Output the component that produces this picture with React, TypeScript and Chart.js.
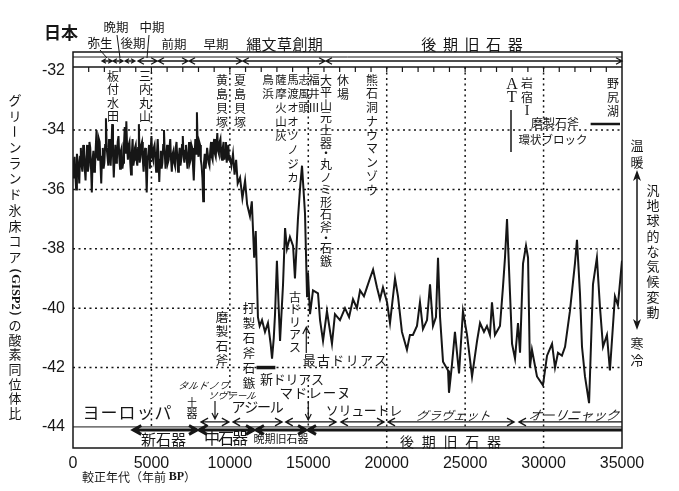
import React, { useEffect, useRef } from "react";
import { Chart, registerables } from "chart.js";
Chart.register(...registerables);

// ---- data ----
const years = [
  0, 50, 100, 150, 200, 250, 300, 350, 400, 450, 500, 550, 600, 650, 700, 750, 800, 850, 900, 950,
  1000, 1050, 1100, 1150, 1200, 1250, 1300, 1350, 1400, 1450, 1500, 1550, 1600, 1650, 1700, 1750, 1800, 1850, 1900, 1950,
  2000, 2050, 2100, 2150, 2200, 2250, 2300, 2350, 2400, 2450, 2500, 2550, 2600, 2650, 2700, 2750, 2800, 2850, 2900, 2950,
  3000, 3050, 3100, 3150, 3200, 3250, 3300, 3350, 3400, 3450, 3500, 3550, 3600, 3650, 3700, 3750, 3800, 3850, 3900, 3950,
  4000, 4050, 4100, 4150, 4200, 4250, 4300, 4350, 4400, 4450, 4500, 4550, 4600, 4650, 4700, 4750, 4800, 4850, 4900, 4950,
  5000, 5050, 5100, 5150, 5200, 5250, 5300, 5350, 5400, 5450, 5500, 5550, 5600, 5650, 5700, 5750, 5800, 5850, 5900, 5950,
  6000, 6050, 6100, 6150, 6200, 6250, 6300, 6350, 6400, 6450, 6500, 6550, 6600, 6650, 6700, 6750, 6800, 6850, 6900, 6950,
  7000, 7050, 7100, 7150, 7200, 7250, 7300, 7350, 7400, 7450, 7500, 7550, 7600, 7650, 7700, 7750, 7800, 7850, 7900, 7950,
  8000, 8050, 8100, 8150, 8200, 8250, 8300, 8350, 8400, 8450, 8500, 8550, 8600, 8650, 8700, 8750, 8800, 8850, 8900, 8950,
  9000, 9050, 9100, 9150, 9200, 9250, 9300, 9350, 9400, 9450, 9500, 9550, 9600, 9650, 9700, 9750, 9800, 9850, 9900, 9950,
  10000, 10100, 10200, 10300, 10400, 10500, 10650, 10800, 10970, 11100,
  11280, 11400, 11550, 11650, 11790, 11900, 12050, 12240, 12430, 12600,
  12690, 12800, 12880, 13000, 13100, 13200, 13390, 13520, 13640, 13830,
  14030, 14150, 14340, 14470, 14600, 14790, 14920, 14980, 15110, 15300,
  15620, 15750, 15940, 16190, 16510, 16700, 17020, 17340, 17600, 17850,
  18100, 18300, 18550, 18740, 18930, 19130, 19380, 19570, 19760, 20020,
  20210, 20530, 20720, 20970, 21290, 21480, 21670, 21930, 22120, 22310,
  22570, 22760, 22950, 23140, 23270, 23400, 23590, 23910, 23970, 24160,
  24350, 24610, 24860, 25120, 25440, 25760, 25950, 26200, 26390, 26580,
  26710, 26900, 27220, 27410, 27540, 27670, 27860, 27990, 28180, 28370,
  28500, 28690, 28880, 29010, 29130, 29260, 29580, 29960, 30220, 30540,
  30730, 30920, 31170, 31370, 31680, 32000, 32130, 32320, 32450, 32640,
  32900, 33150, 33400, 33600, 33790, 34040, 34230, 34550, 34740, 35000,
];
const d18O = [
  -35.6, -35.1, -34.9, -35.5, -36.0, -34.8, -35.0, -35.3, -35.8, -34.9, -34.6, -35.2, -35.4, -34.5, -34.8, -35.3, -35.7, -34.9, -34.5, -35.4,
  -35.2, -34.4, -34.6, -35.3, -36.1, -35.0, -34.7, -35.4, -35.3, -34.6, -34.0, -34.9, -35.0, -34.3, -34.4, -35.1, -35.8, -34.9, -34.6, -35.3,
  -35.1, -34.5, -33.6, -34.6, -34.9, -35.2, -34.3, -34.8, -35.2, -34.6, -33.8, -34.8, -35.6, -34.9, -34.5, -35.1, -35.0, -34.4, -34.2, -34.9,
  -35.3, -34.7, -34.6, -35.3, -35.1, -34.5, -33.9, -34.8, -33.7, -34.6, -35.0, -34.5, -34.4, -35.1, -35.5, -34.8, -34.3, -35.2, -35.0, -34.6,
  -34.5, -35.0, -35.2, -34.6, -33.8, -35.1, -34.9, -34.5, -34.4, -35.0, -35.4, -34.9, -34.6, -35.2, -36.1, -35.0, -34.8, -34.5, -35.3, -34.7,
  -34.2, -34.9, -35.0, -34.6, -34.5, -35.0, -35.4, -34.8, -34.3, -34.9, -35.75, -35.0, -34.7, -35.3, -35.1, -34.5, -34.0, -34.8, -35.3, -34.9,
  -34.5, -35.1, -35.0, -34.6, -34.3, -35.0, -35.4, -34.8, -34.7, -35.1, -35.2, -34.6, -34.4, -35.0, -35.4, -34.9, -34.6, -35.2, -35.0, -34.5,
  -34.2, -34.9, -35.1, -34.7, -34.5, -35.0, -35.3, -34.8, -34.4, -35.1, -35.0, -34.5, -34.6, -35.2, -35.7, -34.9, -34.3, -34.8, -33.4, -34.6,
  -34.9, -34.4, -34.5, -35.0, -35.2, -35.6, -36.4, -35.1, -34.8, -35.3, -35.0, -34.6, -34.6, -35.1, -35.2, -34.7, -34.4, -34.9, -35.0, -34.5,
  -34.3, -34.8, -34.9, -34.5, -34.1, -34.7, -34.8, -34.4, -34.3, -34.9, -35.0, -34.6, -34.4, -35.0, -34.7, -34.4, -35.1, -34.8, -34.5, -35.0,
  -34.9, -35.2, -34.8, -35.5, -35.0, -35.8, -35.6, -36.3, -35.7, -36.5,
  -36.9, -36.4, -38.3, -37.4, -40.3, -40.6, -40.4, -40.8, -40.5, -41.2,
  -41.7, -41.0, -40.2, -38.4, -39.8, -41.1, -39.2, -37.3, -38.0, -37.6,
  -37.9, -39.0, -37.0, -36.0, -35.2, -36.8, -39.6, -38.8, -40.2, -39.4,
  -39.5, -40.4, -41.1, -40.1, -41.2, -40.2, -40.4, -40.0, -40.3, -39.7,
  -40.0, -39.4, -39.6, -39.3, -39.0, -38.7, -39.3, -39.7, -39.3, -39.8,
  -40.5, -39.0, -39.6, -40.8, -41.4, -40.9, -40.9, -40.6, -39.8, -40.7,
  -40.4, -39.2, -40.6, -40.3, -38.3, -40.3, -41.8, -42.1, -42.85, -41.9,
  -40.8, -42.2, -40.1, -40.9, -42.3, -41.1, -40.5, -40.8, -40.6, -40.9,
  -39.8, -40.9, -40.6, -39.3, -38.3, -37.0, -39.5, -41.2, -41.7, -40.5,
  -41.5, -38.5, -37.9, -38.3, -42.0, -41.4, -42.3, -42.6, -41.6, -41.2,
  -42.0, -41.5, -41.6, -41.3, -40.1, -38.5, -37.7, -39.5, -41.3, -42.3,
  -43.2, -39.2, -38.3, -40.0, -41.3, -40.9, -42.1, -39.6, -39.9, -38.4,
];
const yTicks = [-32, -34, -36, -38, -40, -42, -44];
const xTicks = [0, 5000, 10000, 15000, 20000, 25000, 30000, 35000];
const dottedLevels = [-34, -36, -38, -40, -42];

// Japanese periods (label, from, to) in years BP
const japanPeriods: [string, number, number][] = [
  ["弥生", 1850, 2490],
  ["晩期", 2550, 3190],
  ["後期", 3320, 3950],
  ["中期", 4140, 5360],
  ["前期", 5420, 7330],
  ["早期", 7400, 10770],
  ["縄文草創期", 10830, 16070],
  ["後期旧石器", 16130, 35000],
];
// European cultures (upper thin arrows)
const europeUpper: [string, number, number][] = [
  ["タルドノワ・ソヴテール", 8100, 10000],
  ["アジール", 10140, 13390],
  ["マドレーヌ", 13500, 16830],
  ["ソリュートレ", 17020, 19890],
  ["グラヴェット", 20020, 28180],
  ["オーリニャック", 28370, 35000],
];
// European stages (lower thick arrows)
const europeLower: [string, number, number][] = [
  ["新石器", 3780, 7970],
  ["中石器", 7970, 11600],
  ["晩期旧石器", 11600, 14920],
  ["後期旧石器", 14920, 35000],
];
const youngerDryas = [11700, 12900];
const nojiriBar = [33000, 35000];

// ---- drawing helpers ----
const JP = '"Noto Sans CJK JP", "Noto Sans CJK SC", sans-serif';
const LAT = '"Liberation Sans", Arial, sans-serif';
const SER = '"Liberation Serif", "DejaVu Serif", serif';
const INK = "#161616";
const ROT = "ー（）()";

function font(ctx: any, size: number, weight = "400", family = JP, italic = false) {
  ctx.font = `${italic ? "italic " : ""}${weight} ${size}px ${family}`;
}
function txt(ctx: any, s: string, x: number, y: number, size: number, align = "center", weight = "400", family = JP, italic = false) {
  font(ctx, size, weight, family, italic);
  ctx.textAlign = align;
  ctx.textBaseline = "middle";
  ctx.fillText(s, x, y);
  return ctx.measureText(s).width;
}
function spread(ctx: any, s: string, x0: number, x1: number, y: number, size: number, weight = "400", italic = false) {
  const chars = Array.from(s);
  const w = (x1 - x0) / chars.length;
  font(ctx, size, weight, JP, italic);
  ctx.textAlign = "center";
  ctx.textBaseline = "middle";
  chars.forEach((c, i) => {
    const cx = x0 + (i + 0.5) * w;
    if (italic) {
      ctx.save();
      ctx.translate(cx, y);
      ctx.transform(1, 0, -0.2, 1, 0, 0);
      ctx.fillText(c, 0, 0);
      ctx.restore();
    } else ctx.fillText(c, cx, y);
  });
}
function vtext(ctx: any, s: string, x: number, y0: number, step: number, size: number) {
  font(ctx, size);
  ctx.textAlign = "center";
  ctx.textBaseline = "middle";
  const chars = Array.from(s);
  let cy = y0;
  let prevH = 0;
  chars.forEach((c, i) => {
    const h = c === "・" ? step * 0.7 : step;
    if (i > 0) cy += (prevH + h) / 2;
    prevH = h;
    if (ROT.includes(c)) {
      ctx.save();
      ctx.translate(x, cy);
      ctx.rotate(Math.PI / 2);
      ctx.fillText(c, 0, 0);
      ctx.restore();
    } else ctx.fillText(c, x, cy);
  });
}
function seg(ctx: any, x0: number, y0: number, x1: number, y1: number) {
  ctx.beginPath();
  ctx.moveTo(x0, y0);
  ctx.lineTo(x1, y1);
  ctx.stroke();
}
function harrow(ctx: any, x0: number, x1: number, y: number, lw: number, hs: number, left = true, right = true) {
  ctx.lineWidth = lw;
  ctx.beginPath();
  ctx.moveTo(x0, y);
  ctx.lineTo(x1, y);
  if (left) {
    ctx.moveTo(x0 + hs, y - hs * 0.55);
    ctx.lineTo(x0, y);
    ctx.lineTo(x0 + hs, y + hs * 0.55);
  }
  if (right) {
    ctx.moveTo(x1 - hs, y - hs * 0.55);
    ctx.lineTo(x1, y);
    ctx.lineTo(x1 - hs, y + hs * 0.55);
  }
  ctx.stroke();
}
function varrow(ctx: any, x: number, y0: number, y1: number, lw: number, hs: number) {
  ctx.lineWidth = lw;
  const d = y1 > y0 ? 1 : -1;
  ctx.beginPath();
  ctx.moveTo(x, y0);
  ctx.lineTo(x, y1);
  ctx.moveTo(x - hs * 0.5, y1 - d * hs);
  ctx.lineTo(x, y1);
  ctx.lineTo(x + hs * 0.5, y1 - d * hs);
  ctx.stroke();
}
function filledHead(ctx: any, x: number, y: number, dir: number) {
  ctx.beginPath();
  ctx.moveTo(x, y);
  ctx.lineTo(x - 4, y - dir * 11);
  ctx.lineTo(x, y - dir * 8);
  ctx.lineTo(x + 4, y - dir * 11);
  ctx.closePath();
  ctx.fill();
}

const annot = {
  id: "annot",
  beforeDatasetsDraw(chart: any) {
    const { ctx, chartArea: ca, scales } = chart;
    const X = (v: number) => scales.x.getPixelForValue(v);
    const Y = (v: number) => scales.y.getPixelForValue(v);
    ctx.save();
    ctx.strokeStyle = INK;
    ctx.lineWidth = 1.5;
    ctx.setLineDash([2, 3.5]);
    dottedLevels.forEach((v) => seg(ctx, ca.left, Y(v), ca.right, Y(v)));
    const vl: [number, number, number][] = [
      [5000, ca.top + 20, Y(-44) + 1],
      [10000, ca.top + 15, Y(-44) - 32],
      [15000, ca.top + 15, Y(-41.3)],
      [15000, Y(-42.4), Y(-44) + 5],
      [20000, ca.top + 15, ca.bottom],
      [25000, ca.top + 15, Y(-44) + 1],
      [30000, ca.top + 15, ca.bottom],
    ];
    vl.forEach(([yr, a, b]) => seg(ctx, X(yr), a, X(yr), b));
    ctx.setLineDash([]);
    ctx.restore();
  },
  afterDatasetsDraw(chart: any) {
    const { ctx, chartArea: ca, scales } = chart;
    const X = (v: number) => scales.x.getPixelForValue(v);
    const Y = (v: number) => scales.y.getPixelForValue(v);
    ctx.save();
    ctx.strokeStyle = INK;
    ctx.fillStyle = INK;

    // frame
    ctx.lineWidth = 1.5;
    ctx.strokeRect(ca.left, ca.top, ca.right - ca.left, ca.bottom - ca.top);
    // top band
    ctx.lineWidth = 1;
    seg(ctx, ca.left, ca.top + 5, ca.right, ca.top + 5);
    ctx.lineWidth = 1.3;
    seg(ctx, ca.left, ca.top + 15, ca.right, ca.top + 15);
    for (let yr = 1000; yr < 35000; yr += 1000) {
      ctx.lineWidth = 1.2;
      seg(ctx, X(yr), ca.top + 15, X(yr), ca.top + 20);
    }
    japanPeriods.forEach(([, a, b], i) => {
      const small = i < 3;
      harrow(ctx, X(a), X(b), ca.top + 9, 1.3, small ? 4 : 6, true, true);
    });
    // -44 line
    ctx.lineWidth = 1;
    seg(ctx, ca.left, Y(-44), ca.right, Y(-44));

    // Japan labels
    txt(ctx, "日本", 61, 33, 17, "center", "700");
    txt(ctx, "晩期", 116, 27, 12.5);
    txt(ctx, "中期", 152, 27, 12.5);
    txt(ctx, "弥生", 100, 43, 12.5);
    txt(ctx, "後期", 133, 43, 12.5);
    txt(ctx, "前期", 174, 44, 12.5);
    txt(ctx, "早期", 216, 44, 12.5);
    spread(ctx, "縄文草創期", 246, 323, 44, 15);
    spread(ctx, "後期旧石器", 418, 526, 44, 15);
    ctx.lineWidth = 1;
    seg(ctx, 100, 50, 107, 58);
    seg(ctx, 117, 35, 120, 58);
    seg(ctx, 149, 35, 147, 58);

    // vertical site labels
    vtext(ctx, "板付水田", 113, 76, 13.5, 12);
    vtext(ctx, "三内丸山", 145, 76, 13.5, 12);
    vtext(ctx, "黄島貝塚", 222, 80, 14, 12);
    vtext(ctx, "夏島貝塚", 240, 80, 14, 12);
    vtext(ctx, "鳥浜", 268, 80, 14, 11.5);
    vtext(ctx, "薩摩火山灰", 281, 80, 14, 11.5);
    vtext(ctx, "馬渡オオツノジカ", 293, 80, 14, 11.5);
    vtext(ctx, "志風頭", 304, 80, 14, 11.5);
    vtext(ctx, "福井Ⅲ", 314, 80, 14, 11.5);
    vtext(ctx, "大平山元土器・丸ノミ形石斧・石鏃", 326, 80, 12.6, 12);
    vtext(ctx, "休場", 343, 80, 14, 12);
    vtext(ctx, "熊石洞ナウマンゾウ", 372, 80, 13.75, 12);
    txt(ctx, "A", 512, 85, 16, "center", "400", SER);
    txt(ctx, "T", 512, 98, 16, "center", "400", SER);
    ctx.lineWidth = 1.5;
    seg(ctx, 511, 110, 511, 152);
    vtext(ctx, "岩宿", 527, 83, 14, 12);
    txt(ctx, "I", 527, 111, 14, "center", "400", SER);
    vtext(ctx, "野尻湖", 613, 83, 14, 12);
    ctx.lineWidth = 2.5;
    seg(ctx, X(nojiriBar[0]), 124, X(nojiriBar[1]) - 2, 124);
    txt(ctx, "磨製石斧", 555, 123, 12);
    txt(ctx, "環状ブロック", 553, 140, 11.5);

    // lower labels in plot
    vtext(ctx, "磨製石斧", 222, 317, 14.5, 12.5);
    vtext(ctx, "打製石斧石鏃", 249, 308, 15, 12.5);
    vtext(ctx, "古ドリアス", 295, 297, 12.5, 12);
    varrow(ctx, X(15000) - 2, 353, 327, 1.2, 7);
    spread(ctx, "最古ドリアス", 302, 388, 360, 13);
    ctx.lineWidth = 3.5;
    seg(ctx, X(youngerDryas[0]), Y(-42), X(youngerDryas[1]), Y(-42));
    spread(ctx, "新ドリアス", 260, 324, 379, 13);

    // Europe
    spread(ctx, "タルドノワ", 178, 229, 385, 9.5, "400", true);
    spread(ctx, "ソヴテール", 208, 256, 395, 9.5, "400", true);
    vtext(ctx, "土器", 192, 403, 11, 11);
    spread(ctx, "ヨーロッパ", 82, 172, 413, 17);
    spread(ctx, "アジール", 232, 283, 407, 14);
    spread(ctx, "マドレーヌ", 279, 351, 393, 13.5);
    spread(ctx, "ソリュートレ", 326, 402, 410, 13);
    spread(ctx, "グラヴェット", 416, 491, 415, 12, "400", true);
    spread(ctx, "オーリニャック", 529, 619, 415, 13, "400", true);
    varrow(ctx, 215, 401, 419, 1.2, 6);
    varrow(ctx, X(15000), 401, 420, 1.2, 6);
    europeUpper.forEach(([, a, b], i) => {
      const last = i === europeUpper.length - 1;
      harrow(ctx, X(a) + 1, X(b) - (last ? 0 : 1), Y(-44) - 5, 1.4, 7, true, !last);
    });
    europeLower.forEach(([, a, b], i) => {
      const last = i === europeLower.length - 1;
      harrow(ctx, X(a) + 1, X(b) - (last ? 0 : 1), Y(-44) + 3, 3, 8, true, !last);
    });
    spread(ctx, "新石器", 141, 186, 439, 15);
    spread(ctx, "中石器", 205, 247, 438, 16);
    txt(ctx, "晩期旧石器", 281, 439, 11);
    spread(ctx, "後期旧石器", 396, 505, 442, 14);

    // right side
    vtext(ctx, "温暖", 637, 145, 17, 13);
    ctx.lineWidth = 1.5;
    seg(ctx, 637, 178, 637, 322);
    filledHead(ctx, 637, 170, -1);
    filledHead(ctx, 637, 330, 1);
    vtext(ctx, "汎地球的な気候変動", 653, 190, 15.25, 13);
    vtext(ctx, "寒冷", 637, 343, 17, 13);

    // left axis title
    vtext(ctx, "グリーンランド氷床コア", 15, 100, 15.7, 13);
    ctx.save();
    ctx.translate(15, 292);
    ctx.rotate(Math.PI / 2);
    txt(ctx, "（GISP2）", 0, 0, 12.5, "center", "700", SER);
    ctx.restore();
    vtext(ctx, "の酸素同位体比", 15, 325, 14.7, 13);

    // x axis title
    const w1 = txt(ctx, "較正年代（年前 ", 82, 477, 12, "left");
    const w2 = txt(ctx, "BP", 82 + w1, 477, 12, "left", "700", SER);
    txt(ctx, "）", 82 + w1 + w2, 477, 12, "left");
    ctx.restore();
  },
};

export default function App() {
  const ref = useRef<HTMLCanvasElement>(null);
  useEffect(() => {
    const canvas = ref.current as HTMLCanvasElement;
    const chart = new Chart(canvas, {
      type: "line",
      data: {
        datasets: [
          {
            data: years.map((x, i) => ({ x, y: d18O[i] })),
            borderColor: INK,
            borderWidth: 2,
            pointRadius: 0,
            tension: 0,
            fill: false,
          },
        ],
      },
      options: {
        responsive: false,
        animation: false,
        devicePixelRatio: 1,
        layout: { padding: { left: 0, right: 57, top: 52, bottom: 0 } },
        plugins: { legend: { display: false }, tooltip: { enabled: false } },
        scales: {
          x: {
            type: "linear",
            min: 0,
            max: 35000,
            afterBuildTicks: (s: any) => {
              s.ticks = xTicks.map((v) => ({ value: v }));
            },
            afterFit: (s: any) => {
              s.height = 43;
            },
            grid: { display: false, drawTicks: false, tickLength: 0 },
            border: { display: false },
            ticks: {
              color: INK,
              font: { family: LAT, size: 16 },
              padding: 6,
              maxRotation: 0,
              autoSkip: false,
              callback: (v: any) => String(v),
            },
          },
          y: {
            type: "linear",
            min: -44.71,
            max: -31.37,
            afterBuildTicks: (s: any) => {
              s.ticks = yTicks.map((v) => ({ value: v }));
            },
            afterFit: (s: any) => {
              s.width = 73;
            },
            grid: { display: false, drawTicks: false, tickLength: 0 },
            border: { display: false },
            ticks: {
              color: INK,
              font: { family: LAT, size: 16 },
              padding: 8,
              callback: (v: any) => String(v),
            },
          },
        },
      } as any,
      plugins: [annot as any],
    });
    return () => chart.destroy();
  }, []);
  return (
    <div style={{ position: "absolute", left: 0, top: 0, width: 679, height: 491, background: "#fff" }}>
      <canvas ref={ref} width={679} height={491} style={{ display: "block" }} />
    </div>
  );
}
